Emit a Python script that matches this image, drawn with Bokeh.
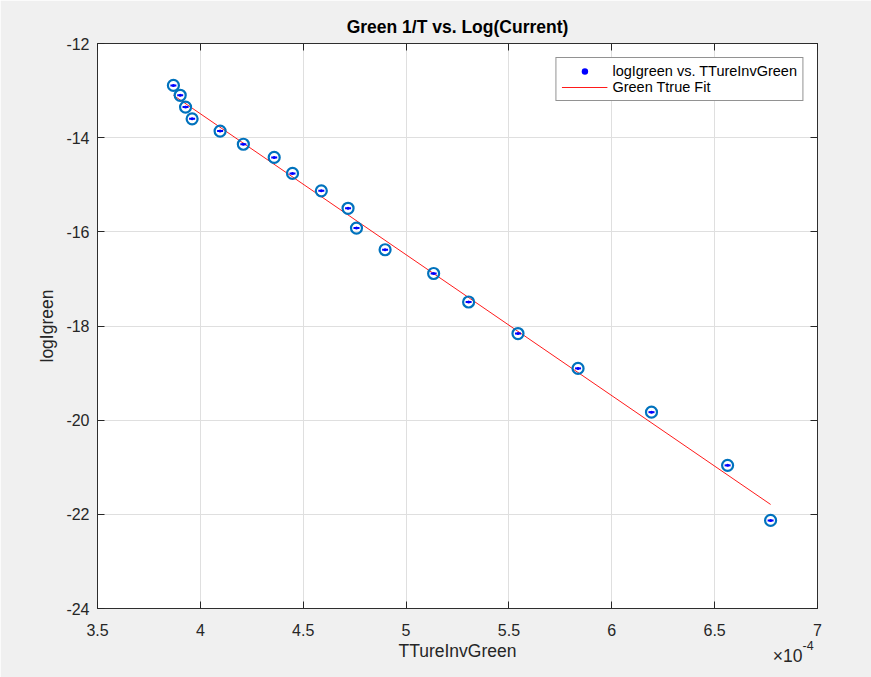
from bokeh.plotting import figure
from bokeh.models import (Range1d, LinearAxis, FixedTicker, CustomJSTickFormatter,
                          Legend, LegendItem, Label, CustomLabelingPolicy)
from bokeh.embed import file_html
from bokeh.resources import INLINE

# Data (x in units of 1e-4, as on the axis)
tinv_green = [3.869, 3.902, 3.928, 3.960, 4.096, 4.209, 4.359, 4.448, 4.588, 4.718,
              4.759, 4.898, 5.134, 5.304, 5.544, 5.836, 6.193, 6.563, 6.772]
log_i_green = [-12.89, -13.10, -13.35, -13.60, -13.86, -14.14, -14.42, -14.76, -15.13, -15.50,
               -15.92, -16.38, -16.885, -17.49, -18.16, -18.90, -19.83, -20.96, -22.13]
fit_x = [3.869, 6.772]
fit_y = [-13.10, -21.79]

x_ticks = [3.5, 4, 4.5, 5, 5.5, 6, 6.5, 7]
y_ticks = [-24, -22, -20, -18, -16, -14, -12]

FONT = "Liberation Sans"
AX = "#262626"

p = figure(width=871, height=677, x_range=Range1d(3.5, 7), y_range=Range1d(-24, -12),
           output_backend="svg", toolbar_location=None,
           min_border_left=97, min_border_right=54, min_border_top=43, min_border_bottom=69,
           background_fill_color="white", border_fill_color="#F0F0F0",
           title="Green 1/T vs. Log(Current)")

p.title.text_font = FONT
p.title.text_font_size = "17.5px"
p.title.text_font_style = "bold"
p.title.text_color = "black"
p.title.align = "center"
p.title.standoff = 0

p.outline_line_color = AX
p.outline_line_width = 0.8

fmt = CustomJSTickFormatter(code="return String(tick);")

for ax in (p.xaxis[0], p.yaxis[0]):
    ax.major_tick_in = 7
    ax.major_tick_out = 0
    ax.minor_tick_line_color = None
    ax.axis_line_color = AX
    ax.axis_line_width = 0.8
    ax.major_tick_line_color = AX
    ax.major_label_text_font = FONT
    ax.major_label_text_font_size = "16px"
    ax.major_label_text_color = AX
    ax.axis_label_text_font = FONT
    ax.axis_label_text_font_size = "17.5px"
    ax.axis_label_text_font_style = "normal"
    ax.axis_label_text_color = AX
    ax.formatter = fmt

p.xaxis[0].ticker = FixedTicker(ticks=x_ticks)
p.yaxis[0].ticker = FixedTicker(ticks=y_ticks)
p.xaxis[0].axis_label = "TTureInvGreen"
p.yaxis[0].axis_label = "logIgreen"
p.xaxis[0].major_label_standoff = 15
p.yaxis[0].major_label_standoff = 8
p.xaxis[0].axis_label_standoff = 2
p.yaxis[0].axis_label_standoff = 6

# tick marks on the top and right edges (MATLAB box), without labels
no_labels = CustomLabelingPolicy(code="return new Set()")
for side, tk, fs in (("right", y_ticks, "0px"), ("above", x_ticks, "6px")):
    a = LinearAxis(ticker=FixedTicker(ticks=tk), major_tick_in=7, major_tick_out=0,
                   minor_tick_line_color=None, axis_line_color=AX, axis_line_width=0.8,
                   major_tick_line_color=AX, major_label_policy=no_labels,
                   major_label_text_font_size=fs, major_label_standoff=0)
    p.add_layout(a, side)

p.grid.grid_line_color = "#DFDFDF"
p.grid.grid_line_width = 1

fit_r = p.line(fit_x, fit_y, line_color="#FF0000", line_width=0.9)
p.scatter(tinv_green, log_i_green, marker="circle", size=11, fill_color=None,
          line_color="#0072BD", line_width=2.2)
p.scatter(tinv_green, log_i_green, marker="dash", size=6, line_color="#0000FF", line_width=2)
dot_r = p.scatter(tinv_green, log_i_green, marker="circle", size=3, fill_color="#0000FF",
                  line_color=None)

legend = Legend(items=[LegendItem(label="logIgreen vs. TTureInvGreen", renderers=[dot_r]),
                       LegendItem(label="Green Ttrue Fit", renderers=[fit_r])],
                location="top_right", margin=14, padding=5, spacing=0,
                glyph_width=46, glyph_height=16, label_height=16, label_standoff=5,
                label_text_font=FONT, label_text_font_size="14.5px", label_text_color="black",
                border_line_color=AX, border_line_width=0.8, background_fill_color="white",
                background_fill_alpha=1)
p.add_layout(legend)

# exponent of the x axis; side-panel annotations are not clipped to the frame
p.add_layout(Label(x=802, y=655, x_units="canvas", y_units="canvas", text="\u00d710",
                   text_align="right", text_baseline="alphabetic", text_font=FONT,
                   text_font_size="17.5px", text_color=AX), "right")
p.add_layout(Label(x=802, y=645, x_units="canvas", y_units="canvas", text="-4",
                   text_align="left", text_baseline="alphabetic", text_font=FONT,
                   text_font_size="12.5px", text_color=AX), "right")

open("out.html", "w").write(file_html(p, INLINE))
